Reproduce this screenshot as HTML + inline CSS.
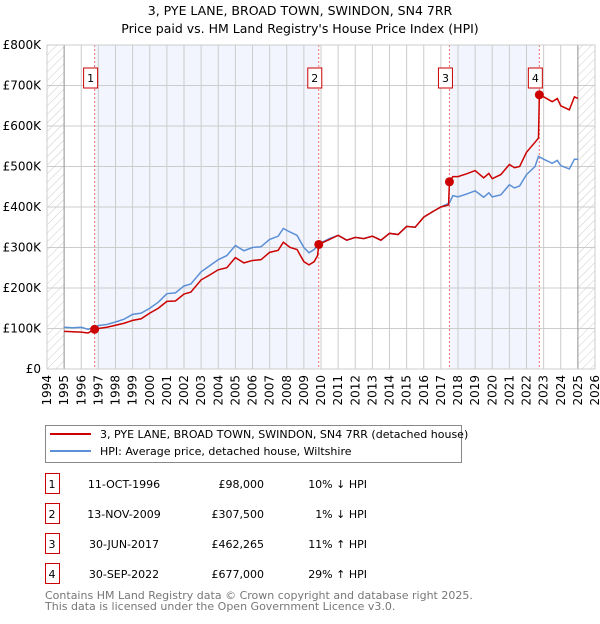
<!DOCTYPE html>
<html><head><meta charset="utf-8"><style>
body{margin:0;background:#fff;font-family:"DejaVu Sans","Liberation Sans",sans-serif;}
svg text{font-family:"DejaVu Sans","Liberation Sans",sans-serif;}
</style></head><body>
<svg id="c" width="600" height="620" xmlns="http://www.w3.org/2000/svg">
<defs><pattern id="h" width="6" height="6" patternUnits="userSpaceOnUse" patternTransform="rotate(45)"><line x1="0" y1="0" x2="0" y2="6" stroke="#ccc" stroke-width="1"/></pattern></defs>
<text x="300" y="15" text-anchor="middle" font-size="12.5">3, PYE LANE, BROAD TOWN, SWINDON, SN4 7RR</text>
<text x="300" y="33" text-anchor="middle" font-size="12.5">Price paid vs. HM Land Registry's House Price Index (HPI)</text>
<g id="plot"></g>
<g>
<rect x="45.5" y="425.5" width="416" height="37" fill="#fff" stroke="#888"/>
<line x1="50" y1="434" x2="91" y2="434" stroke="#cc0000" stroke-width="2"/>
<text x="100" y="438" font-size="11">3, PYE LANE, BROAD TOWN, SWINDON, SN4 7RR (detached house)</text>
<line x1="50" y1="451" x2="91" y2="451" stroke="#5b8fd6" stroke-width="2"/>
<text x="100" y="455" font-size="11">HPI: Average price, detached house, Wiltshire</text>
</g>
<g id="tbl" font-size="11"></g>
<text x="45" y="599" font-size="11" fill="#777">Contains HM Land Registry data © Crown copyright and database right 2025.</text>
<text x="45" y="610" font-size="11" fill="#777">This data is licensed under the Open Government Licence v3.0.</text>
</svg>
<script>
const yTicks=[0,100,200,300,400,500,600,700,800];
const yTickLabels=["£0","£100K","£200K","£300K","£400K","£500K","£600K","£700K","£800K"];
const years=[1994,1995,1996,1997,1998,1999,2000,2001,2002,2003,2004,2005,2006,2007,2008,2009,2010,2011,2012,2013,2014,2015,2016,2017,2018,2019,2020,2021,2022,2023,2024,2025,2026];
const hpiX=[1995,1995.5,1996,1996.4,1997,1997.5,1998,1998.5,1999,1999.5,2000,2000.5,2001,2001.5,2002,2002.4,2003,2003.5,2004,2004.5,2005,2005.5,2006,2006.5,2007,2007.5,2007.8,2008.2,2008.6,2009,2009.3,2009.6,2009.9,2010.5,2011,2011.5,2012,2012.5,2013,2013.5,2014,2014.5,2015,2015.5,2016,2016.5,2017,2017.5,2017.7,2018,2018.5,2019,2019.5,2019.8,2020,2020.5,2021,2021.3,2021.6,2022,2022.5,2022.7,2023,2023.5,2023.8,2024,2024.5,2024.8,2025];
const hpiY=[103,102,103,98,107,110,116,123,135,138,150,165,186,188,205,210,240,255,270,280,305,292,300,302,320,328,347,338,330,300,287,295,310,322,330,318,325,322,328,318,335,332,352,350,375,388,400,410,428,425,432,440,424,435,425,430,455,447,452,480,500,525,518,508,515,502,494,518,518];
const priceX=[1995,1995.5,1996,1996.4,1996.78,1997,1997.5,1998,1998.5,1999,1999.5,2000,2000.5,2001,2001.5,2002,2002.4,2003,2003.5,2004,2004.5,2005,2005.5,2006,2006.5,2007,2007.5,2007.8,2008.2,2008.6,2009,2009.3,2009.6,2009.8,2009.87,2010.5,2011,2011.5,2012,2012.5,2013,2013.5,2014,2014.5,2015,2015.5,2016,2016.5,2017,2017.45,2017.5,2017.7,2018,2018.5,2019,2019.5,2019.8,2020,2020.5,2021,2021.3,2021.6,2022,2022.5,2022.7,2022.75,2023,2023.5,2023.8,2024,2024.5,2024.8,2025];
const priceY=[93,92,91,89,98,100,103,108,113,120,124,138,150,167,168,185,190,220,232,245,250,275,262,268,270,288,293,313,300,295,265,257,265,280,307.5,320,330,318,325,322,328,318,335,332,352,350,375,388,400,405,462,475,475,482,490,472,483,470,480,505,497,500,535,560,570,677,672,660,668,650,640,672,668];
const salesX=[1996.78,2009.87,2017.5,2022.75];
const salesY=[98,307.5,462.265,677];
const salesLabel=["1","2","3","4"];
const salesDate=["11-OCT-1996","13-NOV-2009","30-JUN-2017","30-SEP-2022"];
const salesPrice=["£98,000","£307,500","£462,265","£677,000"];
const salesHpi=["10% ↓ HPI","1% ↓ HPI","11% ↑ HPI","29% ↑ HPI"];
const NS="http://www.w3.org/2000/svg";
const L=47,R=595,T=45,B=369;
const sx=v=>L+(v-1994)/(2026-1994)*(R-L);
const sy=v=>B-v/800*(B-T);
const g=document.getElementById('plot');
function mk(t,a,p){const e=document.createElementNS(NS,t);for(const k in a)e.setAttribute(k,a[k]);(p||g).appendChild(e);return e;}
for(let i=0;i<salesX.length;i+=2){const b=mk('rect',{x:sx(salesX[i]),y:T,width:sx(salesX[i+1])-sx(salesX[i]),height:B-T,fill:'#f2f5fd'});

}
const h1=mk('rect',{x:L,y:T,width:sx(1995)-L,height:B-T,fill:'url(#h)'});


const h2=mk('rect',{x:sx(2025),y:T,width:R-sx(2025),height:B-T,fill:'url(#h)'});


years.forEach(y=>{const l=mk('line',{x1:sx(y),x2:sx(y),y1:T,y2:B,stroke:'#ccc'});


const t=mk('text',{x:0,y:0,'font-size':12,'text-anchor':'end',transform:`translate(${sx(y)+4},${B+6}) rotate(-90)`});t.textContent=y;

});
yTicks.forEach((v,i)=>{const l=mk('line',{x1:L,x2:R,y1:sy(v),y2:sy(v),stroke:'#ccc'});


const t=mk('text',{x:L-6,y:sy(v)+4,'font-size':12,'text-anchor':'end'});t.textContent=yTickLabels[i];

});
mk('line',{x1:sx(1995),x2:sx(1995),y1:T,y2:B,stroke:'#999'});
mk('line',{x1:sx(2025),x2:sx(2025),y1:T,y2:B,stroke:'#999'});
salesX.forEach(x=>{const l=mk('line',{x1:sx(x),x2:sx(x),y1:T,y2:B,stroke:'#f07070','stroke-dasharray':'2,2'});

});
const ph=mk('polyline',{points:hpiX.map((x,i)=>sx(x)+','+sy(hpiY[i])).join(' '),fill:'none',stroke:'#5b8fd6','stroke-width':1.5});


const pp=mk('polyline',{points:priceX.map((x,i)=>sx(x)+','+sy(priceY[i])).join(' '),fill:'none',stroke:'#cc0000','stroke-width':1.5});


salesX.forEach((x,i)=>{const c=mk('circle',{cx:sx(x),cy:sy(salesY[i]),r:4.5,fill:'#cc0000'});


const r=mk('rect',{x:sx(x)-11,y:68,width:14,height:20,fill:'#fff',stroke:'#cc0000'});


const t=mk('text',{x:sx(x)-4,y:82,'font-size':11,'text-anchor':'middle'});t.textContent=salesLabel[i];

});
mk('rect',{x:L,y:T,width:R-L,height:B-T,fill:'none',stroke:'#ccc'});
const tb=document.getElementById('tbl');
salesLabel.forEach((s,i)=>{const y=488+i*30;
const r=mk('rect',{x:45.5,y:y-14.5,width:14,height:20,fill:'#fff',stroke:'#cc0000'},tb);


const cols=[[52,s,'middle'],[124,salesDate[i],'middle'],[264,salesPrice[i],'end'],[367,salesHpi[i],'end']];
cols.forEach(([x,txt,a])=>{const t=mk('text',{x:x,y:y,'text-anchor':a},tb);t.textContent=txt;

});});
</script>
</body></html>
